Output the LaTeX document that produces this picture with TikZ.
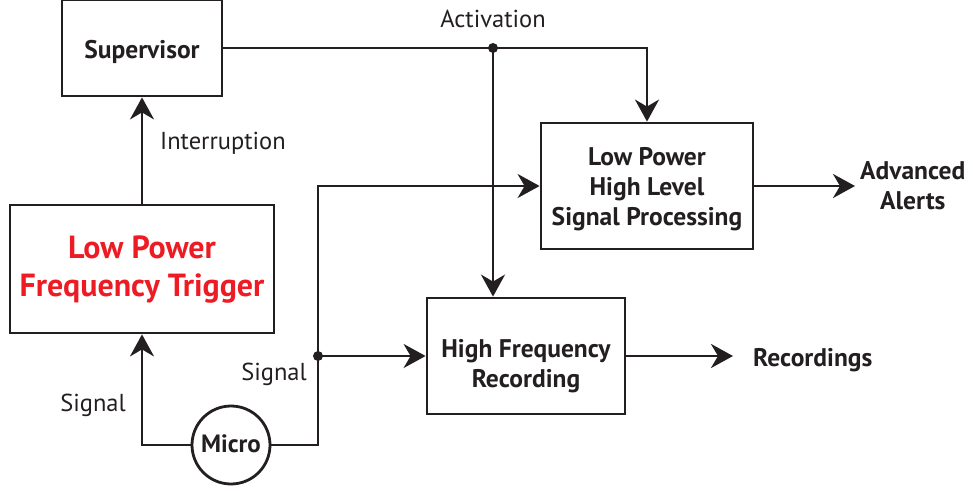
\documentclass[tikz,border=0pt]{standalone}
\usepackage{fontspec}
\setmainfont{PT Sans}
\usetikzlibrary{arrows.meta,calc}
\definecolor{ink}{HTML}{231F20}
\definecolor{redtxt}{HTML}{ED1C24}
\tikzset{
  box/.style={draw=ink,line width=2.8pt,rectangle,inner sep=0pt,align=center,font=\bfseries\fontsize{25.5}{30}\selectfont,text=ink},
  arr/.style={draw=ink,line width=2.8pt,-{Stealth[length=22pt,width=24pt,inset=7pt]}},
  lbl/.style={font=\fontsize{24.5}{28}\selectfont,text=ink,inner sep=0pt},
  outlbl/.style={font=\bfseries\fontsize{25.5}{30}\selectfont,text=ink,inner sep=0pt,align=center},
  dot/.style={circle,fill=ink,inner sep=0pt,minimum size=10pt}
}
\begin{document}
\begin{tikzpicture}[x=1pt,y=-1pt]
\useasboundingbox (0,0) rectangle (973,490);
\node[box,minimum width=160pt,minimum height=96pt,text height=20pt,text depth=0pt] (sup) at (142,48) {Supervisor};
\node[box,minimum width=264pt,minimum height=128pt,text=redtxt,font=\bfseries\fontsize{32}{38}\selectfont,text height=54pt,text depth=0pt] (lpft) at (142,269) {Low Power\\Frequency Trigger};
\node[box,minimum width=212pt,minimum height=126pt,text height=78pt,text depth=0pt] (lphl) at (647,186) {Low Power\\High Level\\Signal Processing};
\node[box,minimum width=198pt,minimum height=116pt,text height=62pt,text depth=0pt] (hfr) at (526,356) {High Frequency\\Recording};
\node[box,circle,minimum size=78pt,font=\bfseries\fontsize{25}{28}\selectfont,text height=14pt,text depth=0pt] (micro) at (231,445) {Micro};
\node[outlbl,anchor=west,text height=46pt,text depth=0pt] (alerts) at (860,186) {Advanced\\Alerts};
\node[outlbl,anchor=west,text height=18pt,text depth=0pt] (rec) at (753,357) {Recordings};
\coordinate (alertsin) at (855,186);
\coordinate (recin) at (733,356);
\node[dot] (j1) at (493,48) {};
\node[dot] (j2) at (318,356) {};
\node[lbl] (act) at (493,19) {Activation};
\node[lbl,anchor=west] (intr) at (160,143) {Interruption};
\node[lbl] (sig1) at (93,405) {Signal};
\node[lbl] (sig2) at (274,374) {Signal};
\draw[arr] (micro.west) -| (lpft.south);
\draw[arr] (lpft.north) -- (sup.south);
\draw[arr] (sup.east) -| (lphl.north);
\draw[arr] (j1.center) -- (j1 |- hfr.north);
\draw[arr] (micro.east) -| (j2.center |- lphl.west) -- (lphl.west);
\draw[arr] (j2.center) -- (hfr.west);
\draw[arr] (lphl.east) -- (alertsin);
\draw[arr] (hfr.east) -- (recin);
\end{tikzpicture}
\end{document}
